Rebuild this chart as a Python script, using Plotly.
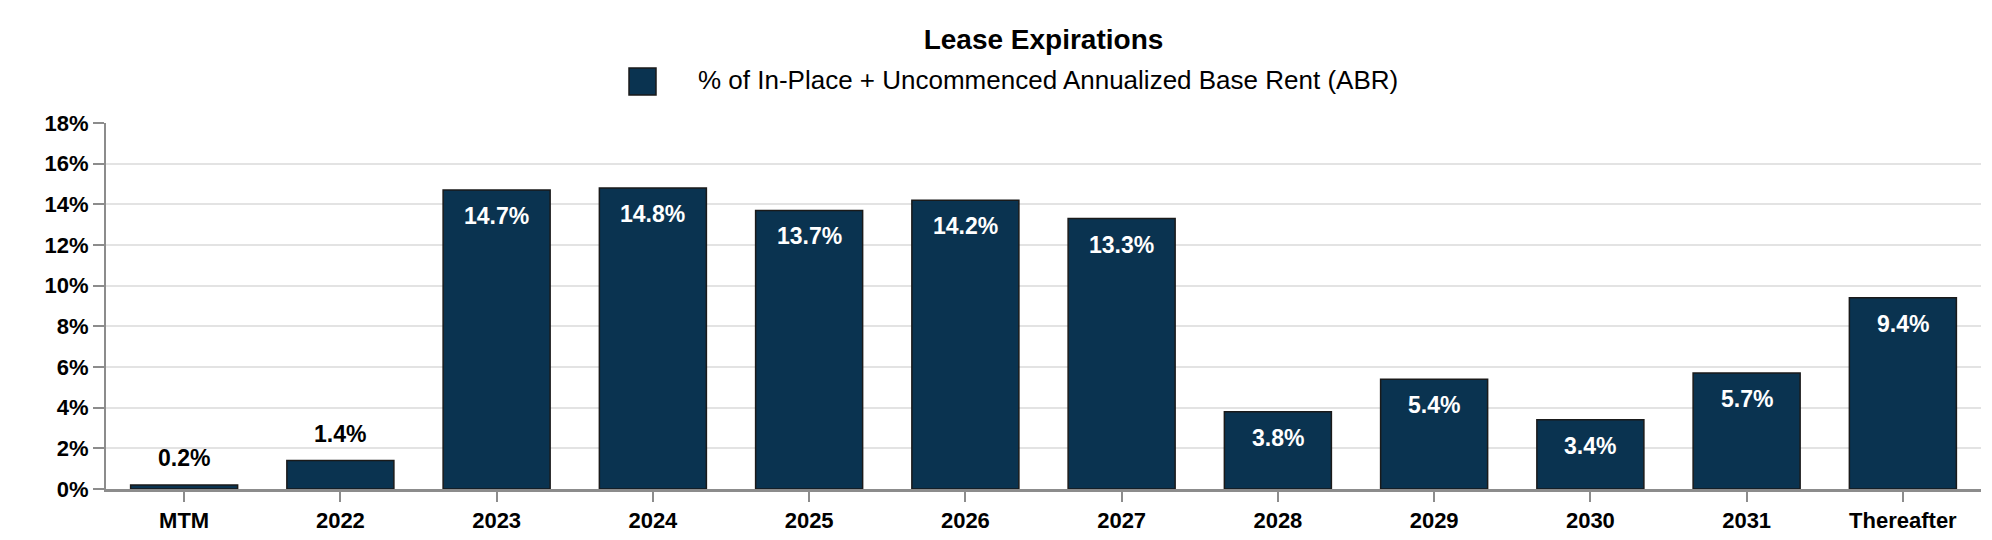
import plotly.graph_objects as go

categories = ["MTM", "2022", "2023", "2024", "2025", "2026", "2027", "2028", "2029", "2030", "2031", "Thereafter"]
abr_pct = [0.2, 1.4, 14.7, 14.8, 13.7, 14.2, 13.3, 3.8, 5.4, 3.4, 5.7, 9.4]
y_ticks = [0, 2, 4, 6, 8, 10, 12, 14, 16, 18]
series_name = "% of In-Place + Uncommenced Annualized Base Rent (ABR)"
chart_title = "Lease Expirations"

FONT = "Liberation Sans, Arial, sans-serif"
BAR = "#0A3350"
W, H = 1992, 540
ML, MR, MT, MB = 98, 19, 115, 59
PW, PH = W - ML - MR, H - MT - MB


def px_to_paper(x, y):
    return (x - ML) / PW, (H - MB - y) / PH


fig = go.Figure()
fig.add_trace(go.Bar(
    x=categories, y=abr_pct, name=series_name,
    marker=dict(color=BAR, line=dict(color="#1a1a1a", width=1.5)),
    showlegend=False,
    hovertemplate="%{x}: %{y:.1f}%<extra></extra>",
))

# value labels: inside (white, near top) for tall bars, above (black) for short ones
# (x given as category index so numeric-looking names are not read as positions)
for i, v in enumerate(abr_pct):
    inside = v >= 2
    fig.add_annotation(
        x=i, y=v, xref="x", yref="y", text=f"<b>{v:.1f}%</b>", showarrow=False,
        xanchor="center", yanchor="middle" if inside else "bottom",
        yshift=-26 if inside else 12,
        font=dict(family=FONT, size=23, color="#FFFFFF" if inside else "#000000"),
    )

# manual legend (large square swatch + label)
x0, y0 = px_to_paper(621, 60)
x1, y1 = px_to_paper(648, 87)
fig.add_shape(type="rect", xref="paper", yref="paper", x0=x0, x1=x1, y0=y1, y1=y0,
              fillcolor=BAR, line=dict(color="#1a1a1a", width=1.5))
tx, ty = px_to_paper(688, 72)
fig.add_annotation(text=series_name, xref="paper", yref="paper", x=tx, y=ty,
                   xanchor="left", yanchor="middle", showarrow=False,
                   font=dict(family=FONT, size=26, color="#000000"))

fig.update_layout(
    width=W, height=H,
    paper_bgcolor="white", plot_bgcolor="white",
    margin=dict(l=ML, r=MR, t=MT, b=MB),
    bargap=0.315,
    title=dict(text=f"<b>{chart_title}</b>", x=0.5, xref="paper", xanchor="center",
               y=1 - 31 / H, yanchor="middle",
               font=dict(family=FONT, size=28, color="#000000")),
    font=dict(family=FONT, color="#000000"),
)
fig.update_yaxes(
    range=[0, 18], tickvals=y_ticks, ticktext=[f"<b>{t}%</b>" for t in y_ticks],
    showgrid=True, gridcolor="#E3E3E3", gridwidth=1.5,
    showline=True, linecolor="#8C8C8C", linewidth=2,
    ticks="outside", tickcolor="#8C8C8C", ticklen=11, tickwidth=2,
    tickfont=dict(family=FONT, size=22, color="#000000"),
    zeroline=False,
)
fig.update_xaxes(
    type="category", categoryorder="array", categoryarray=categories,
    range=[-0.5, len(categories) - 0.5],
    tickvals=categories, ticktext=[f"<b>{c}</b>" for c in categories],
    tickangle=0,
    showline=True, linecolor="#8C8C8C", linewidth=2.5,
    ticks="outside", tickcolor="#8C8C8C", ticklen=10, tickwidth=2,
    tickfont=dict(family=FONT, size=22, color="#000000"),
)

fig.write_html("out.html")
